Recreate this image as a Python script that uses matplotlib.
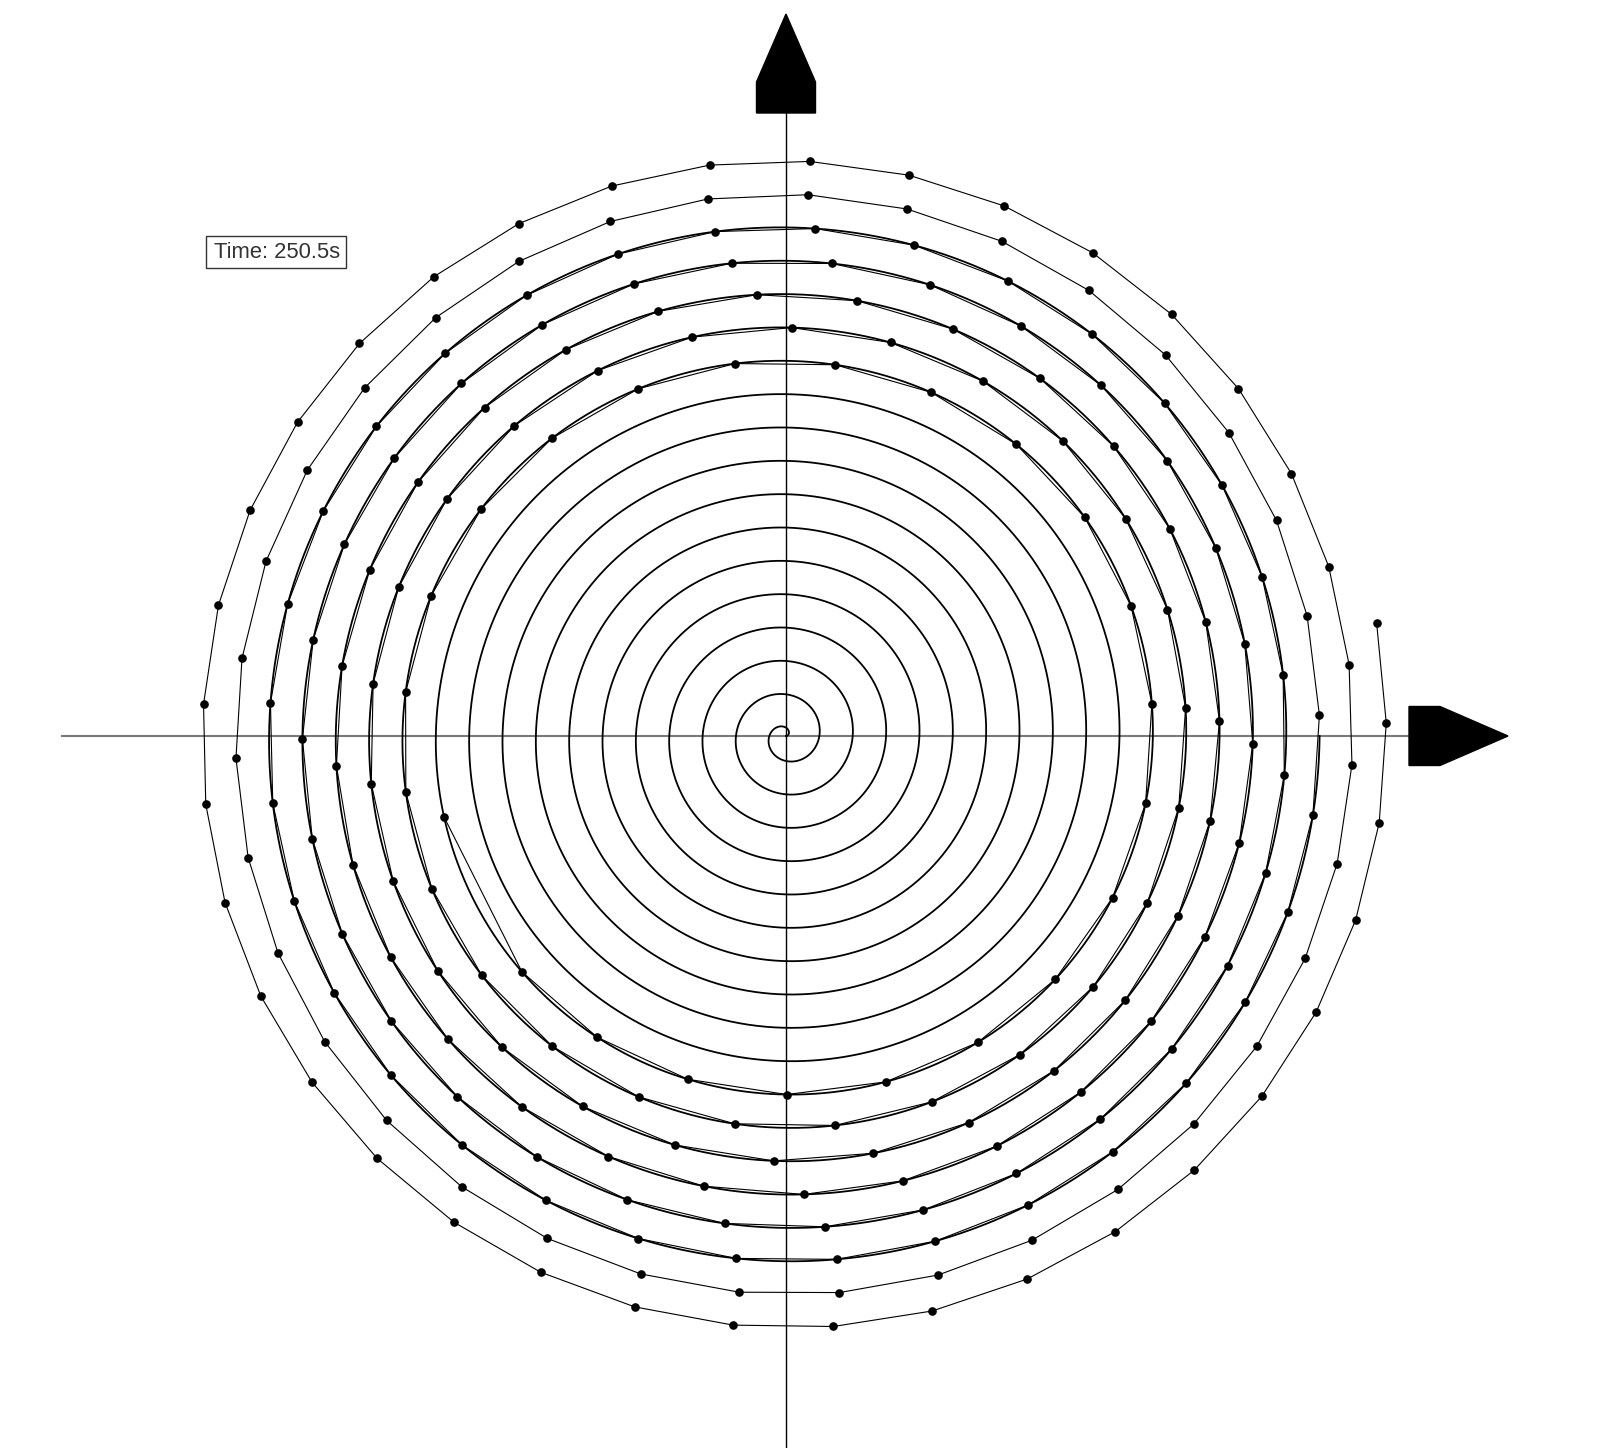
import numpy as np
import matplotlib
matplotlib.use("Agg")
import matplotlib.pyplot as plt
from matplotlib.patches import Polygon, Rectangle

# spiral (units: pixels of the 1610x1448 image)
turn_pitch = 33.35          # radial gap between rings
smooth_turns = 16.0         # continuous part of the path
trail_first_turn = 10.537   # first recorded point
trail_second_turn = 10.616  # second recorded point
trail_end_turn = 18.03      # last recorded point
trail_step = 100.2          # distance between recorded points
time_label = "Time: 250.5s"

cx, cy = 786, 736           # spiral centre in image pixels
W, H = 1610, 1448

b = turn_pitch / (2 * np.pi)

# continuous spiral
th = np.linspace(0, smooth_turns * 2 * np.pi, 20000)
xs, ys = b * th * np.cos(th), b * th * np.sin(th)

# recorded points: evenly spaced along the path
th_all = np.linspace(0, trail_end_turn * 2 * np.pi, 200000)
r_all = b * th_all
ds = np.hypot(np.diff(r_all * np.cos(th_all)), np.diff(r_all * np.sin(th_all)))
s_all = np.concatenate([[0], np.cumsum(ds)])
s_a = np.interp(trail_second_turn * 2 * np.pi, th_all, s_all)
s_e = s_all[-1]
n_steps = int(round((s_e - s_a) / trail_step))
s_pts = np.linspace(s_a, s_e, n_steps + 1)
th_pts = np.interp(s_pts, s_all, th_all)
th_pts = np.concatenate([[trail_first_turn * 2 * np.pi], th_pts])
xp, yp = b * th_pts * np.cos(th_pts), b * th_pts * np.sin(th_pts)

fig = plt.figure(figsize=(W / 100, H / 100), dpi=100)
ax = fig.add_axes([0, 0, 1, 1])
ax.set_xlim(-cx, W - cx)
ax.set_ylim(-(H - cy), cy)
ax.set_aspect("equal")
ax.axis("off")

# axes lines
ax.plot([61.6 - cx, 630], [0, 0], color="#7a7a7a", lw=1.5, zorder=1)
ax.plot([0, 0], [-(H - cy), 630], color="black", lw=1.0, zorder=1)

# arrow heads
base, shoulder, tip, half = 623, 654, 722, 29.5
ax.add_patch(Polygon([(base, half), (shoulder, half), (tip, 0),
                      (shoulder, -half), (base, -half)],
                     closed=True, color="black", zorder=3))
ax.add_patch(Polygon([(-half, base), (-half, shoulder), (0, tip),
                      (half, shoulder), (half, base)],
                     closed=True, color="black", zorder=3))

ax.plot(xs, ys, color="black", lw=1.3, zorder=2)
ax.plot(xp, yp, color="black", lw=0.8, marker="o", ms=5.2, zorder=2)

# time label
ax.add_patch(Rectangle((205.7 - cx, cy - 268.3), 140.3, 32.6, fill=False,
                       edgecolor="#333333", lw=1.0, zorder=4))
ax.text(214 - cx, cy - 252, time_label, fontsize=15.8, family="Liberation Sans",
        color="#333333", va="center", ha="left", zorder=4)

fig.savefig("out.png", dpi=100)
